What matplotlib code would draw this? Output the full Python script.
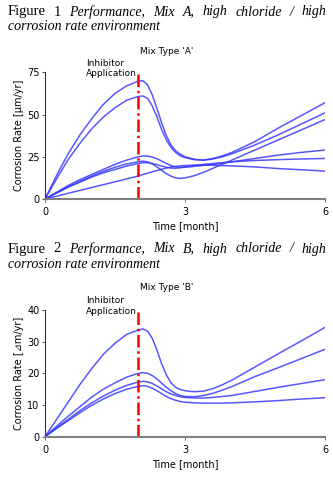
import matplotlib
matplotlib.use('Agg')
import matplotlib.pyplot as plt

# time grid (months)
t = [0, 0.25, 0.5, 0.75, 1, 1.25, 1.5, 1.75, 2, 2.1, 2.2, 2.3, 2.4, 2.5,
     2.6, 2.7, 2.8, 2.9, 3, 3.2, 3.4, 3.6, 3.8, 4, 4.5, 5, 5.5, 6]

# Mix A corrosion rates [um/yr]
mix_a = [
    [0, 14, 27, 38, 47.5, 56, 62.5, 67, 69.8, 70, 67.5, 61.5, 53.5, 45,
     37.5, 32, 28.5, 26.5, 25, 23.5, 23, 24, 25.5, 27.5, 34, 42, 49.5, 57],
    [0, 12, 23.5, 33, 41.5, 48.5, 54, 58.5, 60.7, 61, 59.5, 55, 48.5, 41,
     35, 30.5, 27.5, 25.5, 24.5, 23.3, 23, 23.7, 25, 26.7, 32, 38, 44.5, 51],
    [0, 4, 8, 11.5, 14.5, 17.5, 20.5, 23, 25, 25.5, 25.4, 24.8, 23.8, 22.5,
     21, 19.8, 19, 18.7, 18.8, 19.3, 19.9, 20.5, 21.2, 22, 24, 26, 27.6, 29],
    [0, 3.5, 7, 10, 13, 15.5, 17.5, 19.5, 21, 21.5, 21.5, 21, 20.3, 19.5,
     18.8, 18.3, 18.2, 18.5, 19, 19.8, 20.5, 21, 21.5, 22, 22.8, 23.3, 23.7, 24],
    [0, 3.7, 7.3, 10.5, 13.5, 16.3, 18.8, 20.8, 22, 22.4, 22, 20.8, 19, 17,
     15, 13.5, 12.5, 12.2, 12.5, 13.8, 15.8, 18.2, 20.6, 23, 29, 35, 41, 47],
    [0, 1.7, 3.4, 5.1, 6.8, 8.5, 10.2, 11.9, 13.6, 14.5, 15.3, 16.1, 16.9, 17.6,
     18.3, 18.9, 19.3, 19.6, 19.8, 20, 20.1, 20, 19.8, 19.6, 19, 18, 17.3, 16.5],
]

# Mix B corrosion rates [um/yr]
mix_b = [
    [0, 5.5, 11, 16.5, 21.5, 26, 29.5, 32.3, 33.7, 34, 33.3, 31, 27.3, 23,
     19.5, 17, 15.6, 14.9, 14.5, 14.2, 14.4, 15.2, 16.4, 17.8, 22, 26.2, 30.3, 34.5],
    [0, 3.3, 6.5, 9.5, 12.5, 15, 17, 18.8, 20, 20.2, 20, 19.3, 18.2, 16.9,
     15.6, 14.5, 13.6, 13, 12.7, 12.6, 13, 13.7, 14.7, 15.8, 19, 21.8, 24.7, 27.6],
    [0, 2.8, 5.5, 8.2, 10.7, 12.8, 14.7, 16.2, 17.3, 17.5, 17.3, 16.8, 16, 15.1,
     14.2, 13.5, 13, 12.6, 12.4, 12.2, 12.2, 12.4, 12.7, 13, 14.3, 15.6, 16.8, 18],
    [0, 2.6, 5.1, 7.6, 9.9, 11.9, 13.6, 15, 15.9, 16.1, 15.9, 15.3, 14.5, 13.6,
     12.7, 12, 11.5, 11.1, 10.9, 10.7, 10.6, 10.6, 10.6, 10.7, 11, 11.4, 11.9, 12.3],
]

inhibitor_time = 2
panels = [
    dict(data=mix_a, ymax=75, yticks=[0, 25, 50, 75], title="Mix Type 'A'",
         ylabel='Corrosion Rate [µm/yr]', num='1', mix='A'),
    dict(data=mix_b, ymax=40, yticks=[0, 10, 20, 30, 40], title="Mix Type 'B'",
         ylabel='Corrosion Rate [⊿m/yr]', num='2', mix='B'),
]

fig = plt.figure(figsize=(3.33, 4.8), dpi=100)
W, H = 333, 480


def fx(px):
    return px / W


def fy(py):
    return 1 - py / H


axes_px = [(45, 72.3, 325, 199), (45, 310, 325, 436.7)]
caption_y = [(10.5, 25.5), (247.5, 263.5)]
title_y = [52, 288]
inhib_y = [(63, 74), (300.5, 311)]

renderer = fig.canvas.get_renderer()

for p, (l, tp, r, b), (cy1, cy2), ty, (iy1, iy2) in zip(panels, axes_px, caption_y, title_y, inhib_y):
    ax = fig.add_axes([fx(l), fy(b), fx(r) - fx(l), fy(tp) - fy(b)])
    for series in p['data']:
        ax.plot(t, series, color='#3a3aff', lw=1.1, alpha=0.85, solid_joinstyle='round')
    ax.plot([inhibitor_time, inhibitor_time], [0, p['ymax']], color='red', lw=1.8,
            linestyle=(0, (5, 1.5, 1, 1.5)))
    ax.set_xlim(0, 6)
    ax.set_ylim(0, p['ymax'])
    ax.set_xticks([0, 3, 6])
    ax.set_yticks(p['yticks'])
    for s in ['top', 'right']:
        ax.spines[s].set_visible(False)
    ax.spines['bottom'].set_color('#808080')
    ax.spines['bottom'].set_linewidth(1.5)
    ax.spines['left'].set_color('#333333')
    ax.spines['left'].set_linewidth(0.8)
    ax.tick_params(axis='x', length=2, width=0.6, color='#555555', labelsize=7, pad=4)
    ax.tick_params(axis='y', length=2, width=0.6, color='#333333', labelsize=7, pad=2)
    ax.set_xlabel('Time [month]', fontsize=7, labelpad=3)
    ax.set_ylabel(p['ylabel'], fontsize=7, labelpad=2)
    ax.patch.set_visible(False)

    fig.text(fx(167), fy(ty), p['title'], fontsize=6.5, ha='center', va='center')
    fig.text(fx(86), fy(iy1), 'Inhibitor', fontsize=6.5, ha='left', va='center')
    fig.text(fx(86), fy(iy2), 'Application', fontsize=6.5, ha='left', va='center')

    # justified caption line + second line
    words = [('Figure', 'normal', 10.5), (p['num'], 'normal', 10.5),
             ('Performance,', 'italic', 10), ('Mix', 'italic', 10),
             (p['mix'] + ',', 'italic', 10), ('high', 'italic', 10),
             ('chloride', 'italic', 10), ('/', 'italic', 10), ('high', 'italic', 10)]
    objs = [fig.text(0, fy(cy1), w, fontsize=fs, family='Liberation Serif', style=st,
                     ha='left', va='center_baseline') for w, st, fs in words]
    widths = [o.get_window_extent(renderer).width for o in objs]
    x0, x1 = 7.5, 326.5
    gap = (x1 - x0 - sum(widths)) / (len(words) - 1)
    x = x0
    for o, w in zip(objs, widths):
        o.set_x(fx(x))
        x += w + gap
    fig.text(fx(7.5), fy(cy2), 'corrosion rate environment', fontsize=10,
             family='Liberation Serif', style='italic', ha='left', va='center_baseline')

fig.savefig('out.png', dpi=100)
